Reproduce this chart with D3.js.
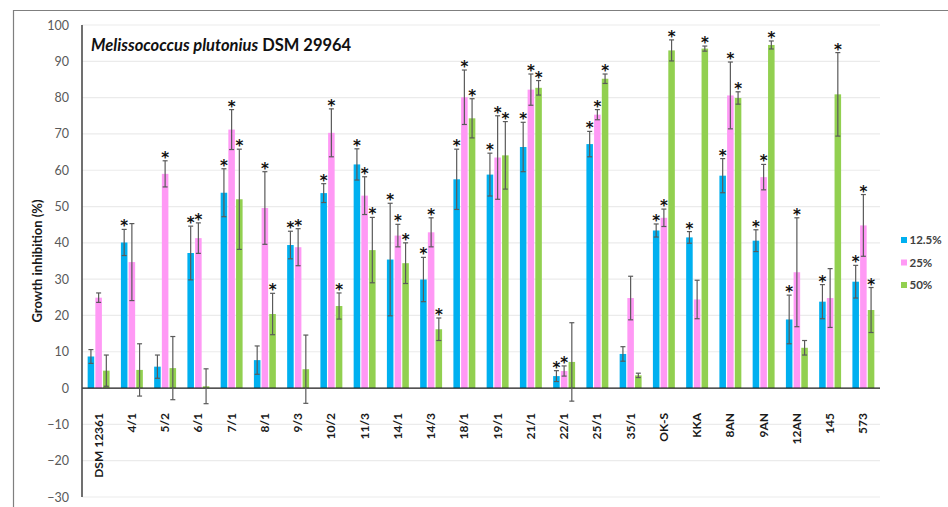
<!DOCTYPE html>
<html><head><meta charset="utf-8">
<script src="https://cdn.jsdelivr.net/npm/d3@7"></script>
<style>html,body{margin:0;padding:0;background:#fff;}svg{display:block;}</style>
</head><body>
<script>
const categories = ["DSM 12361","4/1","5/2","6/1","7/1","8/1","9/3","10/2","11/3","14/1","14/3","18/1","19/1","21/1","22/1","25/1","35/1","OK-S","KKA","8AN","9AN","12AN","145","573"];
const seriesNames = ["12.5%","25%","50%"];
const v125 = [8.7,40.1,5.9,37.2,53.8,7.7,39.4,53.7,61.6,35.4,29.9,57.5,58.8,66.4,3.3,67.2,9.4,43.4,41.5,58.5,40.6,18.9,23.8,29.3];
const e125 = [1.9,3.6,3.2,7.4,6.6,3.9,3.8,2.6,4.3,15.5,6.1,8.3,5.9,6.8,1.5,3.5,2.0,1.8,1.6,4.7,3.0,6.7,4.7,4.5];
const s125 = [0,1,0,1,1,0,1,1,1,1,1,1,1,1,1,1,0,1,1,1,1,1,1,1];
const v25 = [24.9,34.7,59.0,41.3,71.2,49.6,38.8,70.3,53.0,42.0,42.9,80.1,63.5,82.2,4.7,75.3,24.8,46.9,24.4,80.6,58.1,31.9,24.8,44.8];
const e25 = [1.3,10.6,3.6,4.2,5.5,10.0,5.1,6.6,5.2,3.1,4.0,7.5,11.5,4.3,1.4,1.4,6.0,2.4,5.3,9.2,3.5,15.0,8.1,8.5];
const s25 = [0,0,1,1,1,1,1,1,1,1,1,1,1,1,1,1,0,1,0,1,1,1,0,1];
const v50 = [4.8,5.0,5.5,0.5,52.0,20.4,5.2,22.6,38.0,34.4,16.2,74.3,64.1,82.7,7.2,85.2,3.5,93.0,93.5,79.9,94.5,11.1,80.9,21.5];
const e50 = [4.3,7.2,8.7,4.8,13.8,5.7,9.4,3.6,9.0,5.6,3.1,5.4,9.3,2.0,10.8,1.3,0.6,2.9,0.7,1.7,1.1,2.0,11.5,6.2];
const s50 = [0,0,0,0,1,1,0,1,1,1,1,1,1,1,0,1,0,1,1,1,1,0,1,1];
const yTicks = [100,90,80,70,60,50,40,30,20,10,0,-10,-20,-30];
const colors = ["#00B0F0","#FF99F5","#92D050"];
const titleItalic = "Melissococcus plutonius";
const titleRest = " DSM 29964";
const yTitle = "Growth inhibition (%)";

const W = 948, H = 507;
const svg = d3.select("body").append("svg").attr("width", W).attr("height", H);
const font = "Lato, 'Open Sans', sans-serif";

// frame
svg.append("line").attr("x1",13).attr("x2",W).attr("y1",10.5).attr("y2",10.5).attr("stroke","#7f7f7f").attr("stroke-width",1.2);
svg.append("line").attr("x1",13.5).attr("x2",13.5).attr("y1",10).attr("y2",H).attr("stroke","#7f7f7f").attr("stroke-width",1.2);

const left = 82, right = 880;
const y = d3.scaleLinear().domain([-30,100]).range([497,25]);
const x0 = d3.scaleBand().domain(categories).range([left,right]).paddingInner(0.34).paddingOuter(0.17);
const x1 = d3.scaleBand().domain(seriesNames).range([0,x0.bandwidth()]).paddingInner(0.15);

// grid
svg.append("g").selectAll("line").data(yTicks.filter(t=>t!==0)).join("line")
  .attr("x1",left).attr("x2",right).attr("y1",d=>y(d)).attr("y2",d=>y(d))
  .attr("stroke","#ebebeb").attr("stroke-width",1.2);

// y axis labels
const yAxis = d3.axisLeft(y).tickValues(yTicks).tickSize(0).tickPadding(13);
const gy = svg.append("g").attr("transform",`translate(${left},0)`).call(yAxis);
gy.select(".domain").remove();
gy.selectAll("text").attr("font-family",font).attr("font-size",12.5).attr("fill","#595959");

// series data
const series = [
  {name:seriesNames[0], v:v125, e:e125, s:s125, c:colors[0]},
  {name:seriesNames[1], v:v25, e:e25, s:s25, c:colors[1]},
  {name:seriesNames[2], v:v50, e:e50, s:s50, c:colors[2]}
];
const flat = [];
series.forEach(sr => categories.forEach((cat,i) => flat.push({cat, ser:sr.name, v:sr.v[i], e:sr.e[i], s:sr.s[i], c:sr.c})));

const g = svg.append("g");
g.selectAll("rect").data(flat).join("rect")
  .attr("x",d=>x0(d.cat)+x1(d.ser)).attr("width",x1.bandwidth())
  .attr("y",d=>y(Math.max(0,d.v))).attr("height",d=>Math.abs(y(d.v)-y(0)))
  .attr("fill",d=>d.c);

// zero line and y axis line
svg.append("line").attr("x1",left).attr("x2",right).attr("y1",y(0)).attr("y2",y(0)).attr("stroke","#1a1a1a").attr("stroke-width",1.3);
svg.append("line").attr("x1",left).attr("x2",left).attr("y1",y(100)).attr("y2",y(-30)).attr("stroke","#404040").attr("stroke-width",1.5);

// error bars
const eb = svg.append("g").attr("stroke","#5a5a5a").attr("stroke-width",1.2);
flat.forEach(d => {
  const cx = x0(d.cat)+x1(d.ser)+x1.bandwidth()/2;
  const t = y(d.v+d.e), b = y(d.v-d.e);
  eb.append("line").attr("x1",cx).attr("x2",cx).attr("y1",t).attr("y2",b);
  eb.append("line").attr("x1",cx-2.5).attr("x2",cx+2.5).attr("y1",t).attr("y2",t);
  eb.append("line").attr("x1",cx-2.5).attr("x2",cx+2.5).attr("y1",b).attr("y2",b);
});

// asterisks
svg.append("g").selectAll("text").data(flat.filter(d=>d.s)).join("text")
  .attr("x",d=>x0(d.cat)+x1(d.ser)+x1.bandwidth()/2)
  .attr("y",d=>y(d.v+d.e)+2)
  .attr("text-anchor","middle")
  .attr("font-family","'DejaVu Sans', sans-serif").attr("font-weight","bold").attr("font-size",15).attr("fill","#111")
  .text("*");

// x labels
svg.append("g").selectAll("text").data(categories).join("text")
  .attr("transform",d=>`translate(${x0(d)+x0.bandwidth()/2+4},413) rotate(-90)`)
  .attr("text-anchor","end")
  .attr("font-family",font).attr("font-weight","bold").attr("font-size",12).attr("fill","#1a1a1a")
  .text(d=>d);

// y title
svg.append("text").attr("transform","translate(42,261) rotate(-90)").attr("text-anchor","middle")
  .attr("font-family",font).attr("font-weight","bold").attr("font-size",13).attr("fill","#1a1a1a")
  .text(yTitle);

// title
const tt = svg.append("text").attr("x",91).attr("y",51).attr("font-family",font).attr("font-weight","bold").attr("font-size",16.5).attr("fill","#111");
tt.append("tspan").attr("font-style","italic").text(titleItalic);
tt.append("tspan").text(titleRest);

// legend
const lg = svg.append("g").attr("transform","translate(901,240)");
seriesNames.forEach((n,i) => {
  const r = lg.append("g").attr("transform",`translate(0,${i*22.5})`);
  r.append("rect").attr("x",0).attr("y",-3).attr("width",6).attr("height",6).attr("fill",colors[i]);
  r.append("text").attr("x",8.5).attr("y",4.2).attr("font-family",font).attr("font-weight","bold").attr("font-size",11.5).attr("fill","#404040").text(n);
});
</script>
</body></html>
